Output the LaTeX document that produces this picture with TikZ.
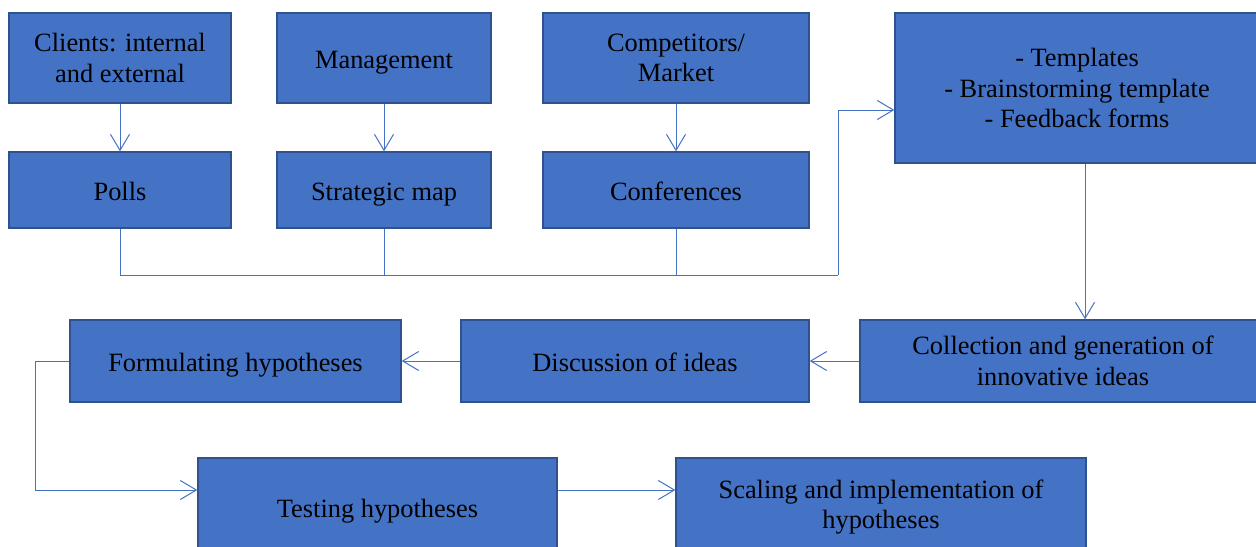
\documentclass[tikz,border=0pt]{standalone}
\usepackage{fontspec}
\setmainfont{Liberation Serif}
\usetikzlibrary{arrows.meta}

\definecolor{boxblue}{HTML}{4472C4}
\definecolor{boxedge}{HTML}{2F528F}
\definecolor{linkblue}{HTML}{4472C4}

\newcommand{\boxstrut}{\rule[-4.3pt]{0pt}{19.3pt}}

\tikzset{
  stage/.style={draw=boxedge, fill=boxblue, line width=0.7pt, inner sep=0pt,
    align=center, font=\fontsize{13.2}{15.3}\selectfont},
  oneline/.style={stage, execute at begin node=\boxstrut, execute at end node=\boxstrut},
  link/.style={draw=linkblue, line width=0.5pt},
  arr/.style={link, -{Straight Barb[length=8pt,width=9.5pt]}},
}

\begin{document}
\begin{tikzpicture}[x=0.5pt, y=-0.5pt]
  \clip (0,0) rectangle (1256,546);

  % sources
  \node[stage, minimum width=111pt, minimum height=45pt] (clients) at (120,58) {Clients: internal\\and external};
  \node[oneline, minimum width=107pt, minimum height=45pt] (mgmt) at (384,58) {Management};
  \node[stage, minimum width=133pt, minimum height=45pt] (comp) at (676,58) {Competitors/\\Market};

  % tools
  \node[oneline, minimum width=111pt, minimum height=38pt] (polls) at (120,190) {Polls};
  \node[oneline, minimum width=107pt, minimum height=38pt] (strat) at (384,190) {Strategic map};
  \node[oneline, minimum width=133pt, minimum height=38pt] (conf) at (676,190) {Conferences};
  \node[stage, minimum width=182pt, minimum height=75pt] (tmpl) at (1077,88) {- Templates\\- Brainstorming template\\- Feedback forms};

  % idea flow
  \node[stage, minimum width=203pt, minimum height=41pt] (coll) at (1063,361) {Collection and generation of\\innovative ideas};
  \node[oneline, minimum width=174pt, minimum height=41pt] (disc) at (635,361) {Discussion of ideas};
  \node[oneline, minimum width=165.5pt, minimum height=41pt] (form) at (235.5,361) {Formulating hypotheses};
  \node[oneline, minimum width=179.5pt, minimum height=49pt] (test) at (377.5,507) {Testing hypotheses};
  \node[stage, minimum width=205pt, minimum height=49pt] (scal) at (881,507) {Scaling and implementation of\\hypotheses};

  \coordinate (busend) at (838,275); % right end of the collecting line
  \coordinate (bend) at (838,110);   % turn towards the templates
  \coordinate (lft) at (35,490);     % lower left corner of the loop

  % arrows
  \draw[arr] (clients) -- (polls);
  \draw[arr] (mgmt) -- (strat);
  \draw[arr] (comp) -- (conf);
  \draw[link] (polls.south) |- (busend);
  \draw[link] (strat.south) -- (strat.south |- busend);
  \draw[link] (conf.south) -- (conf.south |- busend);
  \draw[arr] (busend) -- (bend) -- (bend -| tmpl.west);
  \draw[arr] ([xshift=4pt]tmpl.south) -- ([xshift=4pt]tmpl.south |- coll.north);
  \draw[arr] (coll) -- (disc);
  \draw[arr] (disc) -- (form);
  \draw[arr] (form.west) -| (lft) -- (lft -| test.west);
  \draw[arr] ([yshift=8.5pt]test.east) -- ([yshift=8.5pt]scal.west);
\end{tikzpicture}
\end{document}
